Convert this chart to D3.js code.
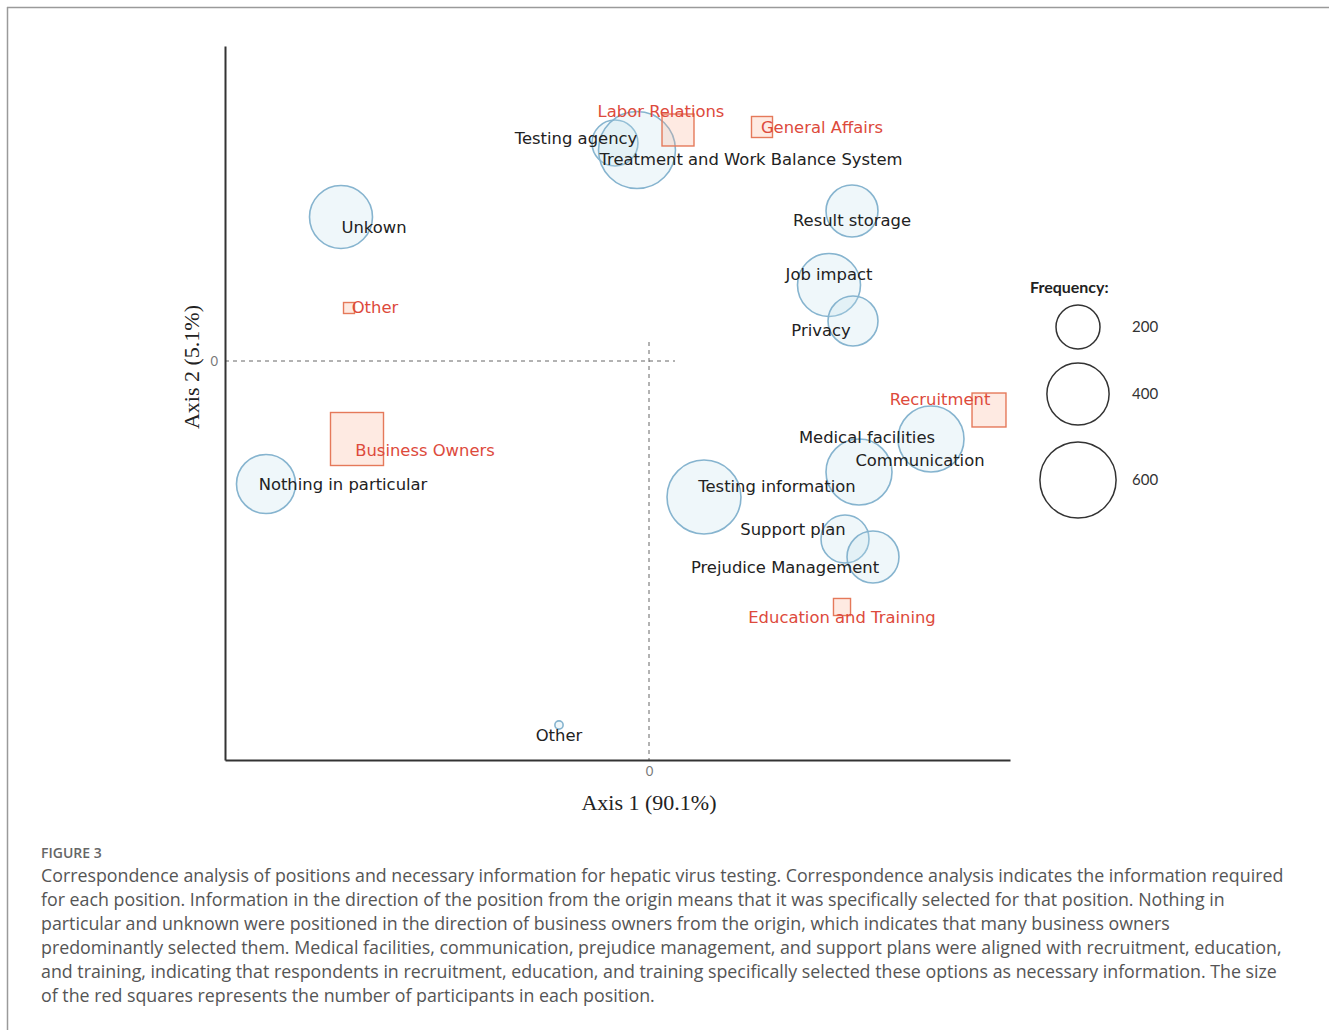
<!DOCTYPE html>
<html>
<head>
<meta charset="utf-8">
<script src="https://cdn.jsdelivr.net/npm/d3@7"></script>
<style>
  html, body { margin: 0; padding: 0; background: #fff; }
  svg { display: block; }
</style>
</head>
<body>
<svg id="chart" width="1329" height="1030"></svg>
<script>
// ---------- DATA ----------
// Information items (blue circles): CA coordinates and frequency
const infoLabels = ["Testing agency", "Treatment and Work Balance System", "Result storage", "Job impact",
  "Privacy", "Unkown", "Nothing in particular", "Testing information", "Medical facilities",
  "Communication", "Support plan", "Prejudice Management", "Other"];
const infoAxis1 = [-0.085, -0.030, 0.5075, 0.450, 0.510, -0.770, -0.9575, 0.1375, 0.525, 0.705, 0.490, 0.560, -0.225];
const infoAxis2 = [0.218, 0.211, 0.150, 0.076, 0.040, 0.144, -0.123, -0.136, -0.111, -0.078, -0.178, -0.196, -0.364];
const infoFreq = [218, 612, 279, 410, 258, 410, 360, 565, 450, 450, 238, 279, 7];

// Positions (red squares): CA coordinates and number of participants
const posLabels = ["Labor Relations", "General Affairs", "Other", "Business Owners", "Recruitment", "Education and Training"];
const posAxis1 = [0.0725, 0.2825, -0.750, -0.730, 0.850, 0.4825];
const posAxis2 = [0.231, 0.234, 0.053, -0.078, -0.049, -0.246];
const posCount = [102, 44, 12, 280, 115, 29];

// Legend
const legendFreq = [200, 400, 600];
const axisTicks = [0];

const captionTitle = "FIGURE 3";
const captionLines = [
  "Correspondence analysis of positions and necessary information for hepatic virus testing. Correspondence analysis indicates the information required",
  "for each position. Information in the direction of the position from the origin means that it was specifically selected for that position. Nothing in",
  "particular and unknown were positioned in the direction of business owners from the origin, which indicates that many business owners",
  "predominantly selected them. Medical facilities, communication, prejudice management, and support plans were aligned with recruitment, education,",
  "and training, indicating that respondents in recruitment, education, and training specifically selected these options as necessary information. The size",
  "of the red squares represents the number of participants in each position."
];

// ---------- LAYOUT (label nudges in px, not data) ----------
const infoNudge = [[-39,-5],[114,9],[0,9],[0,-11],[-32,9],[33,10],[77,0],[73,-11],[8,-35],[-11,21],[-52,-10],[-88,10],[0,10]];
const posNudge = [[-17,-19],[60,0],[26,-1],[68,11],[-49,-11],[0,10]];

// ---------- DRAW ----------
const svg = d3.select("#chart");

// outer frame (top & left visible)
svg.append("line").attr("x1", 7).attr("x2", 1329).attr("y1", 7.5).attr("y2", 7.5)
  .attr("stroke", "#9a9a9a").attr("stroke-width", 1.5);
svg.append("line").attr("x1", 7.5).attr("x2", 7.5).attr("y1", 7).attr("y2", 1030)
  .attr("stroke", "#9a9a9a").attr("stroke-width", 1.5);

const x = d3.scaleLinear().domain([-1.06, 0.9025]).range([225, 1010]);
const y = d3.scaleLinear().domain([-0.399, 0.315]).range([760, 46]);
const rScale = d3.scaleSqrt().domain([0, 600]).range([0, 38.1]);
const sScale = d3.scaleSqrt().domain([0, 280]).range([0, 53]);

// dashed reference lines
svg.append("line")
  .attr("x1", x(-1.06)).attr("x2", x(0.065)).attr("y1", y(0)).attr("y2", y(0))
  .attr("stroke", "#666").attr("stroke-width", 1).attr("stroke-dasharray", "4,4");
svg.append("line")
  .attr("x1", x(0)).attr("x2", x(0)).attr("y1", y(0.019)).attr("y2", y(-0.399))
  .attr("stroke", "#666").attr("stroke-width", 1).attr("stroke-dasharray", "4,4");

// axes
const xAxis = d3.axisBottom(x).tickValues(axisTicks).tickSize(0).tickSizeOuter(0).tickPadding(7).tickFormat(d3.format("d"));
const yAxis = d3.axisLeft(y).tickValues(axisTicks).tickSize(0).tickSizeOuter(0).tickPadding(7).tickFormat(d3.format("d"));
const gx = svg.append("g").attr("transform", `translate(0,${y(-0.399)})`).call(xAxis);
const gy = svg.append("g").attr("transform", `translate(${x(-1.06)},0)`).call(yAxis);
[gx, gy].forEach(g => {
  g.select(".domain").attr("stroke", "#333").attr("stroke-width", 2);
  g.selectAll("text").attr("fill", "#777").style("font-family", "Lato, 'DejaVu Sans', sans-serif").style("font-size", "13px");
});

svg.append("text").text("Axis 1 (90.1%)")
  .attr("x", x(0)).attr("y", 810).attr("text-anchor", "middle")
  .style("font-family", "'Liberation Serif', 'Times New Roman', serif").style("font-size", "22px").attr("fill", "#222");
svg.append("text").text("Axis 2 (5.1%)")
  .attr("transform", `translate(199,${367}) rotate(-90)`).attr("text-anchor", "middle")
  .style("font-family", "'Liberation Serif', 'Times New Roman', serif").style("font-size", "22px").attr("fill", "#222");

const info = infoLabels.map((l, i) => ({label: l, a1: infoAxis1[i], a2: infoAxis2[i], f: infoFreq[i], n: infoNudge[i]}));
const pos = posLabels.map((l, i) => ({label: l, a1: posAxis1[i], a2: posAxis2[i], c: posCount[i], n: posNudge[i]}));

// circles
svg.append("g").selectAll("circle").data(info).join("circle")
  .attr("cx", d => x(d.a1)).attr("cy", d => y(d.a2)).attr("r", d => rScale(d.f))
  .attr("fill", "rgba(190,222,236,0.25)").attr("stroke", "#86b4cf").attr("stroke-width", 1.6);

// squares
svg.append("g").selectAll("rect").data(pos).join("rect")
  .attr("x", d => x(d.a1) - sScale(d.c) / 2).attr("y", d => y(d.a2) - sScale(d.c) / 2)
  .attr("width", d => sScale(d.c)).attr("height", d => sScale(d.c))
  .attr("fill", "rgba(250,170,140,0.25)").attr("stroke", "#e5795a").attr("stroke-width", 1.4);

const labelFont = "'DejaVu Sans', Verdana, sans-serif";
svg.append("g").selectAll("text").data(info).join("text")
  .text(d => d.label)
  .attr("x", d => x(d.a1) + d.n[0]).attr("y", d => y(d.a2) + d.n[1]).attr("dy", "0.36em")
  .attr("text-anchor", "middle").attr("fill", "#222")
  .style("font-family", labelFont).style("font-size", "16.4px");
svg.append("g").selectAll("text").data(pos).join("text")
  .text(d => d.label)
  .attr("x", d => x(d.a1) + d.n[0]).attr("y", d => y(d.a2) + d.n[1]).attr("dy", "0.36em")
  .attr("text-anchor", "middle").attr("fill", "#dd4a3c")
  .style("font-family", labelFont).style("font-size", "16.4px");

// legend
const lg = svg.append("g");
lg.append("text").text("Frequency:").attr("x", 1030).attr("y", 293)
  .style("font-family", "Lato, 'Liberation Sans', sans-serif").style("font-weight", "bold").style("font-size", "16px").attr("fill", "#222");
const legendY = [327, 394, 480];
lg.selectAll("circle").data(legendFreq).join("circle")
  .attr("cx", 1078).attr("cy", (d, i) => legendY[i]).attr("r", d => rScale(d))
  .attr("fill", "none").attr("stroke", "#333").attr("stroke-width", 1.5);
lg.selectAll("text.lv").data(legendFreq).join("text").attr("class", "lv")
  .text(d => d).attr("x", 1132).attr("y", (d, i) => legendY[i]).attr("dy", "0.36em")
  .style("font-family", "Lato, 'Liberation Sans', sans-serif").style("font-size", "15px").attr("fill", "#333");

// caption
svg.append("text").text(captionTitle).attr("x", 41).attr("y", 858)
  .style("font-family", "'Open Sans', sans-serif").style("font-weight", 600).style("font-size", "14px").attr("fill", "#666");
const cap = svg.append("g").style("font-family", "'Open Sans', sans-serif").attr("fill", "#555");
const probe = cap.append("text").text(captionLines[0]).style("font-size", "100px");
const w100 = probe.node().getComputedTextLength();
probe.remove();
const capSize = 100 * 1243 / w100;
cap.selectAll("text").data(captionLines).join("text")
  .text(d => d).attr("x", 41).attr("y", (d, i) => 882 + i * 24)
  .style("font-size", capSize + "px");
</script>
</body>
</html>
